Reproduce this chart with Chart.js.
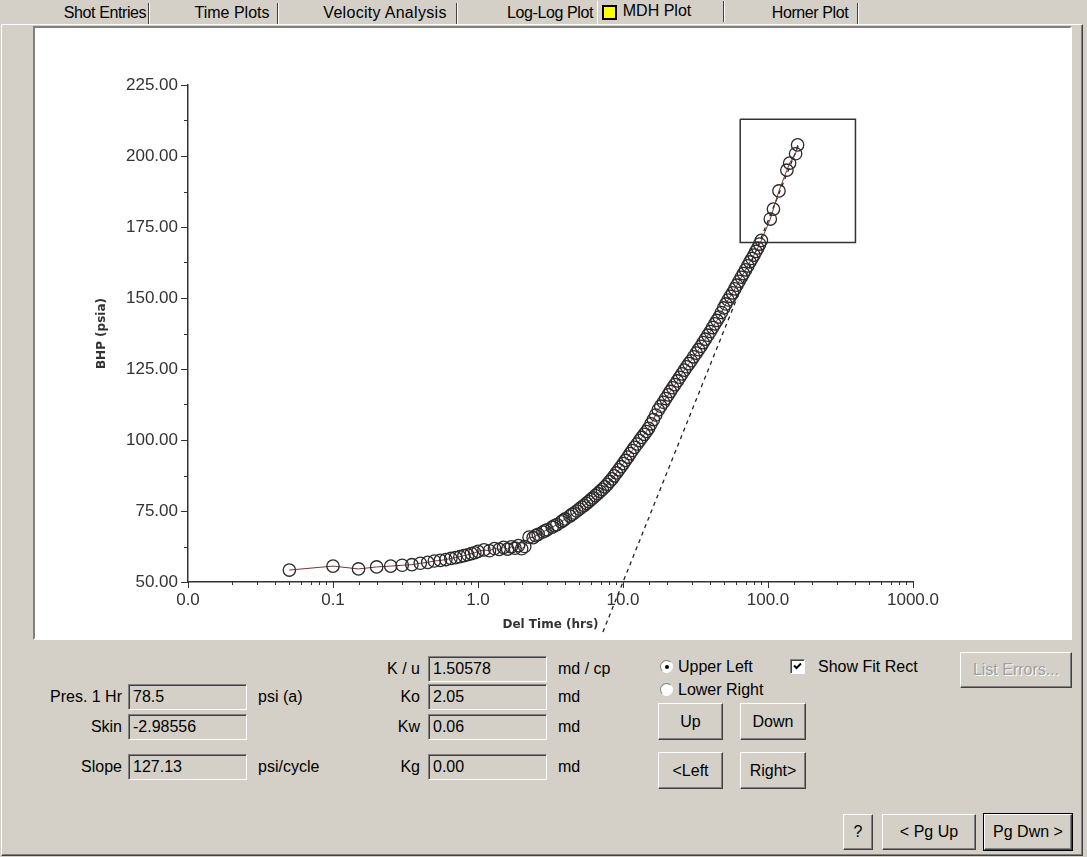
<!DOCTYPE html>
<html><head><meta charset="utf-8">
<script src="https://cdn.jsdelivr.net/npm/chart.js@4.4.1/dist/chart.umd.min.js"></script>
<style>
html,body{margin:0;padding:0;}
body{width:1087px;height:857px;background:#d4d0c8;position:relative;overflow:hidden;font-family:"Liberation Sans",Arial,sans-serif;font-size:16px;color:#000;}
.a{position:absolute;white-space:nowrap;}
.tabtxt{top:3px;height:20px;line-height:20px;font-size:16px;text-align:center;}
.sep{top:3px;width:1px;height:21px;background:#404040;border-right:1px solid #fff;}
.frame{left:1px;top:24px;width:1080px;height:830px;border-top:1px solid #fff;border-left:1px solid #fff;border-right:1px solid #404040;border-bottom:1px solid #404040;box-shadow:inset -1px -1px #808080;}
.plot{left:33px;top:26px;width:1035px;height:610px;background:#fff;border-top:2px solid #808080;border-left:2px solid #808080;border-right:2px solid #fff;border-bottom:2px solid #fff;}
.lbl{text-align:right;height:26px;line-height:26px;}
.txt{height:26px;line-height:26px;}
.tb{width:113px;height:24px;line-height:24px;background:#d4d0c8;border-top:1px solid #808080;border-left:1px solid #808080;border-bottom:1px solid #fff;border-right:1px solid #fff;box-shadow:inset 1px 1px #404040;padding-left:4px;}
.btn{background:#d4d0c8;border-top:1px solid #fff;border-left:1px solid #fff;border-right:1px solid #404040;border-bottom:1px solid #404040;box-shadow:inset -1px -1px #808080;text-align:center;box-sizing:border-box;}
.radio{width:13px;height:13px;border-radius:50%;background:#fff;border:1px solid;border-color:#808080 #fff #fff #808080;box-sizing:border-box;}
</style></head>
<body>
<div class="a frame"></div>
<!-- tabs -->
<div class="a tabtxt" style="left:55px;width:100px;letter-spacing:-0.4px;">Shot Entries</div>
<div class="a sep" style="left:148px;"></div>
<div class="a tabtxt" style="left:182px;width:100px;">Time Plots</div>
<div class="a sep" style="left:277px;"></div>
<div class="a tabtxt" style="left:315px;width:140px;letter-spacing:0.3px;">Velocity Analysis</div>
<div class="a sep" style="left:456px;"></div>
<div class="a tabtxt" style="left:500px;width:100px;letter-spacing:-0.4px;">Log-Log Plot</div>
<div class="a" style="left:597px;top:1px;width:1px;height:24px;background:#fff;"></div>
<div class="a" style="left:602px;top:5px;width:11px;height:11px;background:#ffff00;border:2px solid #000;"></div>
<div class="a tabtxt" style="left:620px;width:74px;top:1px;">MDH Plot</div>
<div class="a sep" style="left:723px;top:1px;"></div>
<div class="a tabtxt" style="left:760px;width:100px;letter-spacing:-0.4px;">Horner Plot</div>
<div class="a sep" style="left:857px;"></div>

<div class="a plot"></div>
<canvas id="c" class="a" width="1033" height="608" style="left:37px;top:30px;width:1033px;height:608px;"></canvas>

<!-- lower panel -->
<div class="a lbl" style="left:330px;width:90px;top:656px;">K / u</div>
<div class="a tb" style="left:428px;top:656px;">1.50578</div>
<div class="a txt" style="left:558px;top:656px;">md / cp</div>

<div class="a lbl" style="left:20px;width:102px;top:684px;">Pres. 1 Hr</div>
<div class="a tb" style="left:128px;top:684px;">78.5</div>
<div class="a txt" style="left:258px;top:684px;">psi (a)</div>
<div class="a lbl" style="left:330px;width:90px;top:684px;">Ko</div>
<div class="a tb" style="left:428px;top:684px;">2.05</div>
<div class="a txt" style="left:558px;top:684px;">md</div>

<div class="a lbl" style="left:20px;width:102px;top:714px;">Skin</div>
<div class="a tb" style="left:128px;top:714px;">-2.98556</div>
<div class="a lbl" style="left:330px;width:90px;top:714px;">Kw</div>
<div class="a tb" style="left:428px;top:714px;">0.06</div>
<div class="a txt" style="left:558px;top:714px;">md</div>

<div class="a lbl" style="left:20px;width:102px;top:754px;">Slope</div>
<div class="a tb" style="left:128px;top:754px;">127.13</div>
<div class="a txt" style="left:258px;top:754px;">psi/cycle</div>
<div class="a lbl" style="left:330px;width:90px;top:754px;">Kg</div>
<div class="a tb" style="left:428px;top:754px;">0.00</div>
<div class="a txt" style="left:558px;top:754px;">md</div>

<!-- radios -->
<div class="a radio" style="left:660px;top:660px;"></div>
<div class="a" style="left:665px;top:665px;width:4px;height:4px;border-radius:50%;background:#000;"></div>
<div class="a txt" style="left:678px;top:654px;">Upper Left</div>
<div class="a radio" style="left:660px;top:683px;"></div>
<div class="a txt" style="left:678px;top:677px;">Lower Right</div>

<!-- checkbox -->
<div class="a" style="left:790px;top:659px;width:15px;height:15px;background:#fff;border:1px solid;border-color:#808080 #fff #fff #808080;box-sizing:border-box;box-shadow:inset 1px 1px #404040;"></div>
<svg class="a" style="left:792px;top:661px;" width="11" height="11" viewBox="0 0 11 11"><path d="M2 4.5 L4.5 7 L9 2.5" stroke="#000" stroke-width="2" fill="none"/></svg>
<div class="a txt" style="left:818px;top:654px;">Show Fit Rect</div>

<div class="a btn" style="left:960px;top:652px;width:112px;height:36px;line-height:34px;color:#a0a0a0;text-shadow:1px 1px #fff;">List Errors...</div>

<div class="a btn" style="left:658px;top:703px;width:65px;height:37px;line-height:35px;">Up</div>
<div class="a btn" style="left:740px;top:703px;width:66px;height:37px;line-height:35px;">Down</div>
<div class="a btn" style="left:658px;top:752px;width:65px;height:37px;line-height:35px;">&lt;Left</div>
<div class="a btn" style="left:740px;top:752px;width:66px;height:37px;line-height:35px;">Right&gt;</div>

<div class="a btn" style="left:843px;top:814px;width:30px;height:36px;line-height:34px;">?</div>
<div class="a btn" style="left:882px;top:814px;width:94px;height:36px;line-height:34px;">&lt; Pg Up</div>
<div class="a" style="left:983px;top:813px;width:90px;height:38px;border:1px solid #000;box-sizing:border-box;"></div>
<div class="a btn" style="left:984px;top:814px;width:88px;height:36px;line-height:34px;">Pg Dwn &gt;</div>

<script>
// ---- data ----
const delTime = [0.05, 0.1, 0.15, 0.2, 0.25, 0.3, 0.35, 0.4, 0.45, 0.5, 0.55, 0.6, 0.65, 0.7, 0.75, 0.8, 0.85, 0.9, 0.95, 1.0,
  1.1, 1.2, 1.3, 1.4, 1.5, 1.6, 1.7, 1.8, 1.9, 2.0, 2.1,
  2.25, 2.4, 2.5, 2.6, 2.8, 2.9, 3.0, 3.25, 3.37, 3.5, 3.75, 3.87, 4.0, 4.3, 4.45, 4.6, 4.8,
  5.0, 5.2, 5.4, 5.6, 5.8, 6.0, 6.2, 6.45, 6.7, 6.95, 7.2, 7.5, 7.8, 8.1, 8.4, 8.7, 9.0, 9.35, 9.7, 10.05, 10.4, 10.8,
  11.2, 11.6, 12.0, 12.5, 13.0, 13.5, 14.0, 14.5, 15.0, 15.6, 16.2, 16.8, 17.5, 18.2, 19.0, 19.7, 20.5, 21.2, 22.0, 22.8,
  23.7, 24.6, 25.5, 26.5, 27.5, 28.5, 29.5, 30.7, 32, 33.2, 34.5, 35.7, 37, 38.5, 40, 41.5, 43, 44.5, 46, 47.7, 49.5,
  51.2, 53, 55, 57, 59, 61, 63.2, 65.5, 67.7, 70, 72.5, 75, 77.5, 80, 82.5, 85, 87.5, 90,
  103.7, 109, 119, 135, 141, 155, 160];
const bhp = [54.2, 55.6, 54.6, 55.3, 55.6, 55.9, 56.1, 56.6, 56.9, 57.4, 57.6, 57.9, 58.3, 58.6, 58.9, 59.3, 59.6, 60.0, 60.3, 60.8,
  61.3, 61.0, 61.8, 61.5, 62.2, 61.6, 62.4, 61.9, 62.8, 61.7, 62.5,
  65.8, 65.6, 66.3, 66.8, 67.6, 68.0, 68.4, 69.3, 69.8, 70.2, 71.2, 71.7, 72.2, 73.2, 73.8, 74.3, 75.0,
  75.7, 76.4, 77.0, 77.7, 78.3, 79.0, 79.6, 80.4, 81.1, 81.9, 82.6, 83.5, 84.4, 85.4, 86.3, 87.4, 88.4, 89.5, 90.6, 91.7, 92.8, 94.0,
  95.2, 96.3, 97.4, 98.6, 99.8, 100.9, 102.0, 103.0, 104.1, 105.7, 107.2, 108.8, 110.6, 111.9, 113.3, 114.6, 115.9, 117.1, 118.4, 119.5,
  120.8, 122.1, 123.3, 124.6, 125.8, 126.9, 127.9, 129.3, 130.6, 131.8, 133.0, 134.3, 135.5, 136.9, 138.2, 139.6, 140.9, 142.1, 143.3, 144.9, 146.5,
  147.9, 149.3, 150.6, 151.8, 153.2, 154.5, 155.9, 157.3, 158.6, 159.9, 161.3, 162.7, 163.9, 165.1, 166.4, 167.6, 169.0, 170.3,
  177.8, 181.3, 187.7, 195.0, 197.5, 200.8, 203.9];
const fitLineTime = [7.27, 165];
const fitLinePres = [32.4, 204.8];
const fitRectTime = [64.3, 401];
const fitRectPres = [169.5, 212.9];
const xTickValues = [0.01, 0.1, 1, 10, 100, 1000];
const xTickLabels = ['0.0', '0.1', '1.0', '10.0', '100.0', '1000.0'];
const yTickValues = [50, 75, 100, 125, 150, 175, 200, 225];
const yTickLabels = ['50.00', '75.00', '100.00', '125.00', '150.00', '175.00', '200.00', '225.00'];

const isDecade = v => xTickValues.some(d => Math.abs(d - v) / d < 1e-6);

const tickPlugin = {
  id: 'axisTicks',
  afterDatasetsDraw(chart) {
    const ctx = chart.ctx, xs = chart.scales.x, ys = chart.scales.y;
    ctx.save();
    ctx.strokeStyle = '#333';
    ctx.lineWidth = 1;
    ctx.beginPath();
    xs.ticks.forEach(t => {
      const px = Math.round(xs.getPixelForValue(t.value)) + 0.5;
      const len = isDecade(t.value) ? 6 : 3;
      ctx.moveTo(px, xs.top); ctx.lineTo(px, xs.top + len);
    });
    for (let i = 0; i < ys.ticks.length; i++) {
      const v = ys.ticks[i].value;
      const py = Math.round(ys.getPixelForValue(v)) + 0.5;
      ctx.moveTo(ys.right - 7, py); ctx.lineTo(ys.right, py);
      if (i < ys.ticks.length - 1) {
        const pm = Math.round(ys.getPixelForValue((v + ys.ticks[i + 1].value) / 2)) + 0.5;
        ctx.moveTo(ys.right - 4, pm); ctx.lineTo(ys.right, pm);
      }
    }
    ctx.stroke();
    ctx.restore();
  }
};

const tickFont = {family: 'Liberation Sans', size: 17};
const titleFont = {family: 'DejaVu Sans', size: 12, weight: 'bold'};

new Chart(document.getElementById('c'), {
  type: 'scatter',
  data: {
    datasets: [
      {
        data: delTime.map((t, i) => ({x: t, y: bhp[i]})),
        showLine: true,
        borderColor: '#7a3434',
        borderWidth: 1,
        pointRadius: 6.2,
        pointBorderColor: '#2a2a2a',
        pointBorderWidth: 1.3,
        pointBackgroundColor: 'rgba(255,255,255,0)'
      },
      {
        data: fitLineTime.map((t, i) => ({x: t, y: fitLinePres[i]})),
        showLine: true,
        borderColor: '#222',
        borderWidth: 1.3,
        borderDash: [4, 4],
        pointRadius: 0,
        clip: false
      },
      {
        data: [
          {x: fitRectTime[0], y: fitRectPres[1]}, {x: fitRectTime[1], y: fitRectPres[1]},
          {x: fitRectTime[1], y: fitRectPres[0]}, {x: fitRectTime[0], y: fitRectPres[0]},
          {x: fitRectTime[0], y: fitRectPres[1]}
        ],
        showLine: true,
        borderColor: '#333',
        borderWidth: 1.5,
        pointRadius: 0
      }
    ]
  },
  options: {
    responsive: false,
    animation: false,
    devicePixelRatio: 1,
    layout: {padding: {left: 0, top: 55, right: 157, bottom: 0}},
    plugins: {legend: {display: false}, tooltip: {enabled: false}},
    scales: {
      x: {
        type: 'logarithmic', min: 0.01, max: 1000, position: 'bottom',
        afterFit(s) { s.height = 56; },
        grid: {display: true, drawOnChartArea: false, drawTicks: false},
        border: {display: true, color: '#333', width: 1.5},
        ticks: {
          autoSkip: false, maxRotation: 0, padding: 8, color: '#333', font: tickFont,
          callback: v => { const i = xTickValues.findIndex(d => Math.abs(d - v) / d < 1e-6); return i >= 0 ? xTickLabels[i] : ''; }
        },
        title: {display: true, text: 'Del Time (hrs)', color: '#333', font: titleFont, padding: {top: 0, bottom: 6}}
      },
      y: {
        type: 'linear', min: 50, max: 225, position: 'left',
        afterBuildTicks(s) { s.ticks = yTickValues.map(v => ({value: v})); },
        afterFit(s) { s.width = 151; },
        grid: {display: true, drawOnChartArea: false, drawTicks: false},
        border: {display: true, color: '#333', width: 1.5},
        ticks: {
          padding: 10, color: '#333', font: tickFont,
          callback: v => { const i = yTickValues.indexOf(v); return i >= 0 ? yTickLabels[i] : ''; }
        },
        title: {display: true, text: 'BHP (psia)', color: '#333', font: titleFont, padding: {top: 58, bottom: 0}}
      }
    }
  },
  plugins: [tickPlugin]
});
</script>
</body></html>
